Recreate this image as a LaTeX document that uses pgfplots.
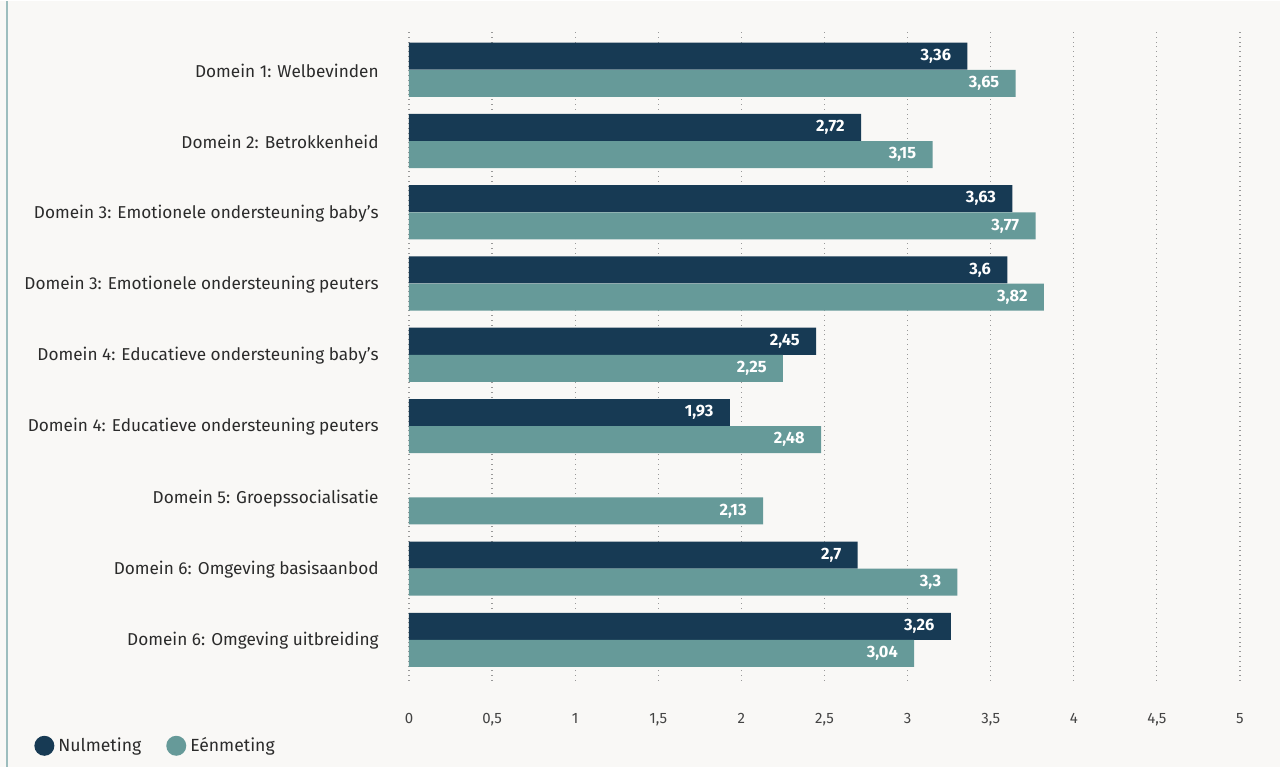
\documentclass[border=0pt]{standalone}
\usepackage{pgfplots}
\pgfplotsset{compat=1.18}
\usepackage{fontspec}
\setmainfont{Fira Sans}
\usetikzlibrary{calc,backgrounds}
\definecolor{nul}{HTML}{173A54}
\definecolor{een}{HTML}{669A99}
\definecolor{bgc}{HTML}{F9F8F6}
\definecolor{edge}{HTML}{9DBDBE}
\definecolor{txt}{HTML}{2B2B2B}
\definecolor{ticktxt}{HTML}{444444}

\begin{document}
\begin{tikzpicture}
\begin{axis}[
    name=ax,
    scale only axis,
    width=415.5pt,
    height=326pt,
    xbar,
    bar width=0.379,
    xmin=0, xmax=5,
    ymin=-0.575, ymax=8.575,
    axis line style={draw=none},
    xtick pos=bottom, ytick pos=left,
    xmajorgrids,
    grid style={dotted, gray!80, line width=0.6pt},
    xtick={0,0.5,...,5},
    ytick={0,...,8},
    yticklabels={
        Domein 6: Omgeving uitbreiding,
        Domein 6: Omgeving basisaanbod,
        Domein 5: Groepssocialisatie,
        Domein 4: Educatieve ondersteuning peuters,
        Domein 4: Educatieve ondersteuning baby's,
        Domein 3: Emotionele ondersteuning peuters,
        Domein 3: Emotionele ondersteuning baby's,
        Domein 2: Betrokkenheid,
        Domein 1: Welbevinden},
    major tick length=0pt,
    /pgf/number format/assume math mode=true,
    /pgf/number format/use comma,
    xticklabel style={font=\fontsize{7.5}{9}\selectfont, text=ticktxt, anchor=north, inner sep=0pt, yshift=-16pt},
    yticklabel style={font=\fontsize{8.6}{10}\selectfont, text=txt, anchor=east, inner sep=0pt, xshift=-15pt, yshift=-0.5pt},
    nodes near coords,
    nodes near coords style={anchor=east, inner sep=0pt, xshift=-8pt, text=white,
        font=\fontsize{8.2}{10}\selectfont\bfseries,
        /pgf/number format/.cd, fixed, precision=2, use comma},
    legend columns=2,
    legend style={at={(axis description cs:-0.4585,-0.0997)}, anchor=west,
        draw=none, fill=none, font=\fontsize{8.8}{10}\selectfont, text=txt,
        /tikz/every even column/.append style={column sep=10.5pt}},
    legend image code/.code={\fill (0.25em,0) circle (5pt);},
    clip=false
]
\addplot[fill=nul, draw=none, bar shift=0.19] coordinates {
    (3.36,8) (2.72,7) (3.63,6) (3.6,5) (2.45,4) (1.93,3) (2.7,1) (3.26,0)
};
\addplot[fill=een, draw=none, bar shift=-0.19] coordinates {
    (3.65,8) (3.15,7) (3.77,6) (3.82,5) (2.25,4) (2.48,3) (2.13,2) (3.3,1) (3.04,0)
};
\legend{Nulmeting, Eénmeting}
\end{axis}
\begin{scope}[on background layer]
\fill[bgc] ($(ax.south west)+(-204.5pt,-43pt)$) rectangle ($(ax.north east)+(20pt,14pt)$);
\draw[edge, line width=0.8pt] ($(ax.south west)+(-201pt,-43pt)$) -- ($(ax.north west)+(-201pt,14pt)$);
\end{scope}
\end{tikzpicture}
\end{document}
